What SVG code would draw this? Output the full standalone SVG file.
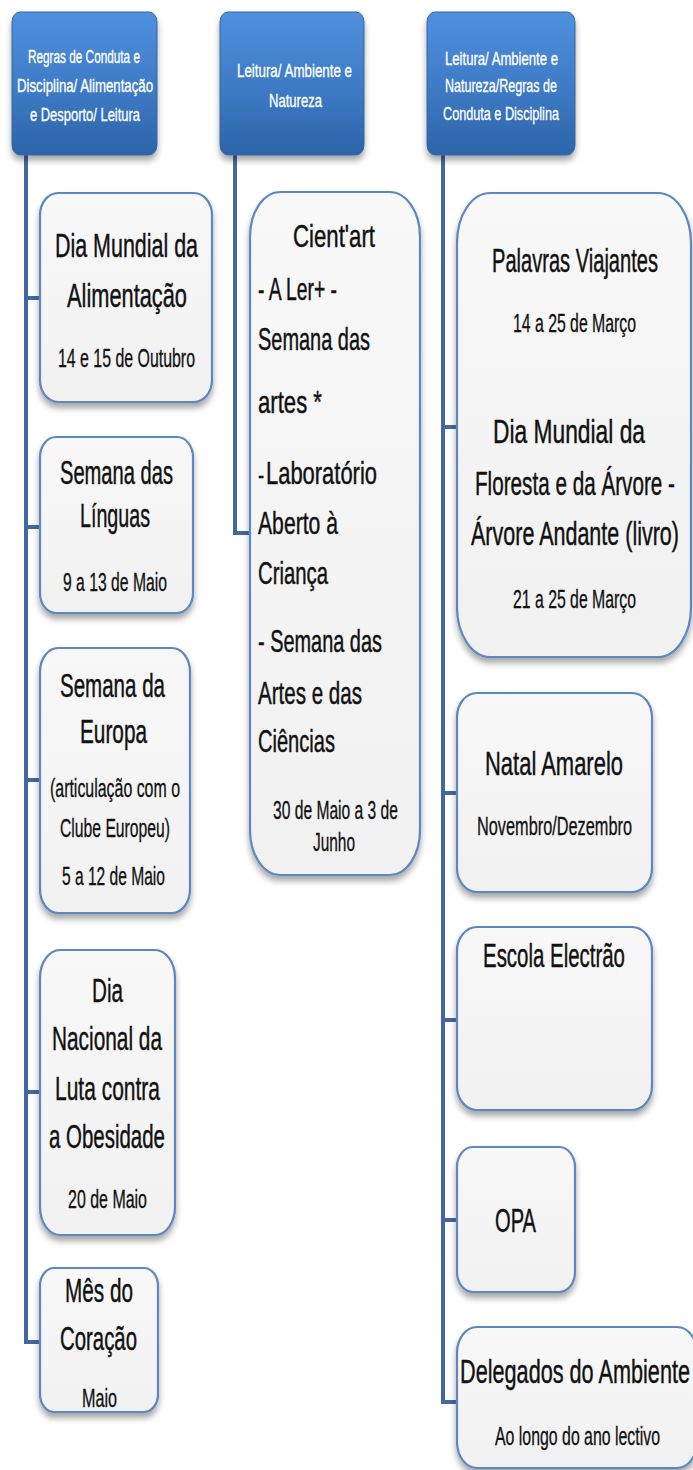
<svg xmlns="http://www.w3.org/2000/svg" width="693" height="1470" viewBox="0 0 693 1470">
<defs>
<linearGradient id="hg" x1="0" y1="0" x2="0" y2="1">
<stop offset="0" stop-color="#4f90dc"/>
<stop offset="0.5" stop-color="#3f7cc8"/>
<stop offset="1" stop-color="#2c64a8"/>
</linearGradient>
<linearGradient id="bg" x1="0" y1="0" x2="0" y2="1">
<stop offset="0" stop-color="#f8f8f8"/>
<stop offset="1" stop-color="#f1f1f1"/>
</linearGradient>
<filter id="sh" x="-20%" y="-20%" width="140%" height="140%">
<feDropShadow dx="0" dy="5" stdDeviation="3" flood-color="#000" flood-opacity="0.35"/>
</filter>
<style>
text{font-family:"Liberation Sans Narrow","Liberation Sans",Arial,sans-serif;fill:#111;stroke:#111;stroke-width:0.45}
.h{fill:#fff;stroke:#fff;stroke-width:0.35;font-size:19px}
.ttl{font-size:34px}
.bd{font-size:32px}
.sub{font-size:25px;stroke-width:0.3}
.hdr{fill:url(#hg);stroke:#3566a6;stroke-width:1;filter:url(#sh)}
.box{fill:url(#bg);stroke:#5b87bf;stroke-width:2.2;filter:url(#sh)}
.con{fill:none;stroke:#41699f;stroke-width:4}
</style>
</defs>
<rect width="693" height="1470" fill="#fff"/>
<g id="connectors">
<path class="con" d="M26,155 V1342 H42 M26,298 H42 M26,527 H42 M26,780 H42 M26,1092 H42"/>
<path class="con" d="M235,155 V533 H252"/>
<path class="con" d="M443,155 V1402 H459 M443,427 H459 M443,793 H459 M443,1020 H459 M443,1220 H459"/>
</g>
<g id="h1">
<rect class="hdr" x="12" y="12" width="145" height="143" rx="8" ry="10"/>
<g transform="scale(0.75,1)">
<text class="h" x="37.33" y="63" textLength="149.33" lengthAdjust="spacingAndGlyphs">Regras de Conduta e</text>
<text class="h" x="22.67" y="92" textLength="181.33" lengthAdjust="spacingAndGlyphs">Disciplina/ Alimentação</text>
<text class="h" x="40" y="121" textLength="146.67" lengthAdjust="spacingAndGlyphs">e Desporto/ Leitura</text>
</g>
</g>
<g id="h2">
<rect class="hdr" x="220" y="12" width="144" height="143" rx="8" ry="10"/>
<g transform="scale(0.75,1)">
<text class="h" x="316" y="77" textLength="153.33" lengthAdjust="spacingAndGlyphs">Leitura/ Ambiente e</text>
<text class="h" x="358.67" y="107" textLength="70.67" lengthAdjust="spacingAndGlyphs">Natureza</text>
</g>
</g>
<g id="h3">
<rect class="hdr" x="427" y="12" width="148" height="143" rx="8" ry="10"/>
<g transform="scale(0.75,1)">
<text class="h" x="593.33" y="65" textLength="150.67" lengthAdjust="spacingAndGlyphs">Leitura/ Ambiente e</text>
<text class="h" x="593.33" y="92" textLength="149.33" lengthAdjust="spacingAndGlyphs">Natureza/Regras de</text>
<text class="h" x="590.67" y="120" textLength="154.67" lengthAdjust="spacingAndGlyphs">Conduta e Disciplina</text>
</g>
</g>
<g id="n_alimentacao">
<rect class="box" x="40" y="193" width="172" height="209" rx="18" ry="22"/>
<g transform="scale(0.75,1)">
<text class="ttl" x="73.33" y="257" textLength="190.67" lengthAdjust="spacingAndGlyphs">Dia Mundial da</text>
<text class="ttl" x="89.33" y="307" textLength="160" lengthAdjust="spacingAndGlyphs">Alimentação</text>
<text class="sub" x="77.33" y="367" textLength="182.67" lengthAdjust="spacingAndGlyphs">14 e 15 de Outubro</text>
</g>
</g>
<g id="n_linguas">
<rect class="box" x="40" y="437" width="153" height="176" rx="16" ry="20"/>
<g transform="scale(0.75,1)">
<text class="ttl" x="80" y="484" textLength="150.67" lengthAdjust="spacingAndGlyphs">Semana das</text>
<text class="ttl" x="106.67" y="527" textLength="93.33" lengthAdjust="spacingAndGlyphs">Línguas</text>
<text class="sub" x="84" y="591" textLength="138.67" lengthAdjust="spacingAndGlyphs">9 a 13 de Maio</text>
</g>
</g>
<g id="n_europa">
<rect class="box" x="40" y="648" width="150" height="265" rx="18" ry="24"/>
<g transform="scale(0.75,1)">
<text class="ttl" x="80" y="697" textLength="140" lengthAdjust="spacingAndGlyphs">Semana da</text>
<text class="ttl" x="106.67" y="743" textLength="89.33" lengthAdjust="spacingAndGlyphs">Europa</text>
<text class="sub" x="66.67" y="797" textLength="173.33" lengthAdjust="spacingAndGlyphs">(articulação com o</text>
<text class="sub" x="80" y="837" textLength="146.67" lengthAdjust="spacingAndGlyphs">Clube Europeu)</text>
<text class="sub" x="82.67" y="885" textLength="137.33" lengthAdjust="spacingAndGlyphs">5 a 12 de Maio</text>
</g>
</g>
<g id="n_obesidade">
<rect class="box" x="40" y="950" width="135" height="285" rx="20" ry="28"/>
<g transform="scale(0.75,1)">
<text class="ttl" x="122.67" y="1002" textLength="41.33" lengthAdjust="spacingAndGlyphs">Dia</text>
<text class="ttl" x="69.33" y="1050" textLength="146.67" lengthAdjust="spacingAndGlyphs">Nacional da</text>
<text class="ttl" x="73.33" y="1100" textLength="140" lengthAdjust="spacingAndGlyphs">Luta contra</text>
<text class="ttl" x="65.33" y="1148" textLength="154.67" lengthAdjust="spacingAndGlyphs">a Obesidade</text>
<text class="sub" x="90.67" y="1208" textLength="105.33" lengthAdjust="spacingAndGlyphs">20 de Maio</text>
</g>
</g>
<g id="n_coracao">
<rect class="box" x="40" y="1268" width="118" height="144" rx="14" ry="18"/>
<g transform="scale(0.75,1)">
<text class="ttl" x="86.67" y="1302" textLength="90.67" lengthAdjust="spacingAndGlyphs">Mês do</text>
<text class="ttl" x="80" y="1350" textLength="102.67" lengthAdjust="spacingAndGlyphs">Coração</text>
<text class="sub" x="109.33" y="1407" textLength="46.67" lengthAdjust="spacingAndGlyphs">Maio</text>
</g>
</g>
<g id="n_cientart">
<rect class="box" x="250" y="192" width="170" height="683" rx="30" ry="45"/>
<g transform="scale(0.75,1)">
<text class="bd" x="390.67" y="247" textLength="109.33" lengthAdjust="spacingAndGlyphs">Cient'art</text>
<text class="bd" x="344" y="300" textLength="105.33" lengthAdjust="spacingAndGlyphs">- A Ler+ -</text>
<text class="bd" x="344" y="350" textLength="149.33" lengthAdjust="spacingAndGlyphs">Semana das</text>
<text class="bd" x="344" y="413" textLength="85.33" lengthAdjust="spacingAndGlyphs">artes *</text>
<text class="sub" x="344" y="484">-</text>
<text class="bd" x="354.67" y="484" textLength="148" lengthAdjust="spacingAndGlyphs">Laboratório</text>
<text class="bd" x="344" y="534" textLength="106.67" lengthAdjust="spacingAndGlyphs">Aberto à</text>
<text class="bd" x="344" y="584" textLength="93.33" lengthAdjust="spacingAndGlyphs">Criança</text>
<text class="bd" x="344" y="652" textLength="165.33" lengthAdjust="spacingAndGlyphs">- Semana das</text>
<text class="bd" x="344" y="704" textLength="138.67" lengthAdjust="spacingAndGlyphs">Artes e das</text>
<text class="bd" x="344" y="752" textLength="102.67" lengthAdjust="spacingAndGlyphs">Ciências</text>
<text class="sub" x="364" y="819" textLength="166.67" lengthAdjust="spacingAndGlyphs">30 de Maio a 3 de</text>
<text class="sub" x="417.33" y="851" textLength="56" lengthAdjust="spacingAndGlyphs">Junho</text>
</g>
</g>
<g id="n_palavras">
<rect class="box" x="457" y="193" width="234" height="464" rx="33" ry="50"/>
<g transform="scale(0.75,1)">
<text class="ttl" x="656" y="272" textLength="221.33" lengthAdjust="spacingAndGlyphs">Palavras Viajantes</text>
<text class="sub" x="684" y="332" textLength="164" lengthAdjust="spacingAndGlyphs">14 a 25 de Março</text>
<text class="ttl" x="657.33" y="443" textLength="202.67" lengthAdjust="spacingAndGlyphs">Dia Mundial da</text>
<text class="ttl" x="633.33" y="495" textLength="266.67" lengthAdjust="spacingAndGlyphs">Floresta e da Árvore -</text>
<text class="ttl" x="628" y="545" textLength="277.33" lengthAdjust="spacingAndGlyphs">Árvore Andante (livro)</text>
<text class="sub" x="684" y="608" textLength="164" lengthAdjust="spacingAndGlyphs">21 a 25 de Março</text>
</g>
</g>
<g id="n_natal">
<rect class="box" x="457" y="693" width="195" height="199" rx="20" ry="24"/>
<g transform="scale(0.75,1)">
<text class="ttl" x="646.67" y="775" textLength="184" lengthAdjust="spacingAndGlyphs">Natal Amarelo</text>
<text class="sub" x="636" y="835" textLength="206.67" lengthAdjust="spacingAndGlyphs">Novembro/Dezembro</text>
</g>
</g>
<g id="n_escola">
<rect class="box" x="457" y="927" width="195" height="183" rx="20" ry="24"/>
<g transform="scale(0.75,1)">
<text class="ttl" x="644" y="967" textLength="189.33" lengthAdjust="spacingAndGlyphs">Escola Electrão</text>
</g>
</g>
<g id="n_opa">
<rect class="box" x="457" y="1147" width="118" height="145" rx="16" ry="20"/>
<g transform="scale(0.75,1)">
<text class="ttl" x="660" y="1232" textLength="54.67" lengthAdjust="spacingAndGlyphs">OPA</text>
</g>
</g>
<g id="n_delegados">
<rect class="box" x="457" y="1327" width="240" height="141" rx="20" ry="26"/>
<g transform="scale(0.75,1)">
<text class="ttl" x="613.33" y="1383" textLength="306.67" lengthAdjust="spacingAndGlyphs">Delegados do Ambiente</text>
<text class="sub" x="660" y="1445" textLength="220" lengthAdjust="spacingAndGlyphs">Ao longo do ano lectivo</text>
</g>
</g>
</svg>
